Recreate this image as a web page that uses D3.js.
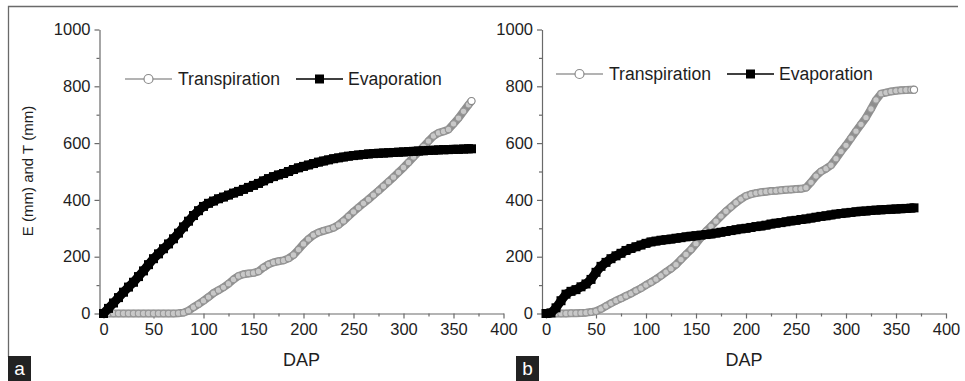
<!DOCTYPE html>
<html><head><meta charset="utf-8">
<script src="https://cdn.jsdelivr.net/npm/d3@7"></script>
<style>
body{margin:0;background:#fff;}
svg{display:block;font-family:"Liberation Sans",Arial,Helvetica,sans-serif;}
</style>
</head><body>
<svg id="c" width="965" height="381"></svg>
<script>
// ---------- data ----------
const days = [0,5,10,15,20,25,30,35,40,45,50,55,60,65,70,75,80,85,90,95,100,105,110,115,120,125,130,135,140,145,150,155,160,165,170,175,180,185,190,195,200,205,210,215,220,225,230,235,240,245,250,255,260,265,270,275,280,285,290,295,300,305,310,315,320,325,330,335,340,345,350,355,360,365,368];

// Panel a
const transA = [0,0,0,0,0,0,0,0,0,0,0,0,0,0,0,1,3,10,22,33,45,58,72,82,92,105,120,132,138,141,143,148,162,173,180,184,187,194,206,225,245,262,276,285,291,296,302,312,326,342,358,373,388,402,417,432,448,464,480,497,514,532,551,569,588,607,625,636,641,648,668,688,712,735,748];
const evapA  = [0,18,37,56,75,93,110,130,150,172,193,210,228,245,263,283,305,325,345,362,377,388,396,404,410,417,424,430,437,444,451,458,467,475,482,488,493,500,507,513,518,523,528,533,537,541,545,548,551,554,556,558,560,562,563,564,565,566,567,568,569,570,571,572,573,574,575,576,577,577,578,578,579,580,580];

// Panel b
const transB = [0,0,0,0,0,1,1,2,3,5,8,16,26,36,45,53,62,70,80,89,100,110,121,133,146,158,172,190,208,225,246,268,290,307,325,343,360,375,390,403,414,420,424,427,429,431,432,434,436,437,438,439,443,462,484,500,510,522,545,570,592,617,642,666,690,720,752,774,778,782,784,786,787,788,788];
const evapB  = [0,2,20,45,68,78,84,94,104,120,145,166,180,193,203,212,222,229,235,241,247,252,255,258,260,262,265,267,270,272,274,276,278,280,283,286,289,292,295,298,300,303,306,308,311,315,318,320,323,326,328,331,333,336,339,342,344,347,350,352,354,356,358,360,361,363,364,365,366,367,368,369,370,371,372];

const xMajor = [0,50,100,150,200,250,300,350,400];
const xMinor = [25,75,125,175,225,275,325,375];
const yMajor = [0,200,400,600,800,1000];
const yMinor = [100,300,500,700,900];
const seriesNames = ["Transpiration","Evaporation"];
const panelNames = ["a","b"];
const xTitle = "DAP";
const yTitle = "E (mm) and T (mm)";

// ---------- drawing ----------
const svg = d3.select("#c");
const axisCol = "#6a6a6a";
const textCol = "#1e1e1e";
const fmt = d3.format("d");

// outer frame (top + left)
svg.append("path").attr("d","M8.5,357 V6.5 H958")
  .attr("fill","none").attr("stroke",axisCol).attr("stroke-width",1.3);

const panels = [
  {trans:transA, evap:evapA, r0:99.5, r1:503.5, leg:{x:125,y:79}, lab:{x:8,w:23}, yTitle:true},
  {trans:transB, evap:evapB, r0:542, r1:946, leg:{x:556,y:74}, lab:{x:516,w:23}, yTitle:false}
];

panels.forEach((p,pi)=>{
  const g = svg.append("g");
  const x = d3.scaleLinear().domain([-4,400]).range([p.r0,p.r1]);
  const y = d3.scaleLinear().domain([0,1000]).range([313.5,29.5]);

  // x axis
  g.append("g").attr("transform","translate(0,313.5)")
    .call(d3.axisBottom(x).tickValues(xMajor).tickFormat(fmt).tickSize(5).tickSizeOuter(0).tickPadding(5));
  g.append("g").attr("transform","translate(0,313.5)")
    .call(d3.axisBottom(x).tickValues(xMinor).tickSize(3).tickFormat(""))
    .call(s=>s.select(".domain").remove());
  // y axis
  g.append("g").attr("transform",`translate(${x(-4)},0)`)
    .call(d3.axisLeft(y).tickValues(yMajor).tickFormat(fmt).tickSize(5).tickSizeOuter(0).tickPadding(4));
  g.append("g").attr("transform",`translate(${x(-4)},0)`)
    .call(d3.axisLeft(y).tickValues(yMinor).tickSize(3).tickFormat(""))
    .call(s=>s.select(".domain").remove());

  g.selectAll(".domain, .tick line").attr("stroke",axisCol).attr("stroke-width",1.2);
  g.selectAll(".tick text").attr("fill",textCol).style("font-size","16.5px")
    .style("font-family","'Liberation Sans',Arial,sans-serif");

  // axis titles
  g.append("text").attr("x",(x(-4)+x(400))/2).attr("y",366)
    .attr("text-anchor","middle").attr("fill",textCol).style("font-size","18px").text(xTitle);
  if (p.yTitle) {
    g.append("text").attr("transform","translate(33,171) rotate(-90)")
      .attr("text-anchor","middle").attr("fill",textCol).style("font-size","15px").text(yTitle);
  }

  const line = d3.line().x((d,i)=>x(days[i])).y(d=>y(d));

  // Transpiration (open circles, grey)
  g.append("path").datum(p.trans).attr("d",line).attr("fill","none")
    .attr("stroke","#8e8e8e").attr("stroke-width",8).attr("stroke-linejoin","round");
  g.selectAll(".tc").data(p.trans).enter().append("circle")
    .attr("cx",(d,i)=>x(days[i])).attr("cy",d=>y(d)).attr("r",3.2)
    .attr("fill","#c8c8c8").attr("stroke","#969696").attr("stroke-width",1.1);
  const lastI = p.trans.length-1;
  g.append("circle").attr("cx",x(days[lastI])).attr("cy",y(p.trans[lastI])).attr("r",3.6)
    .attr("fill","#fff").attr("stroke","#8a8a8a").attr("stroke-width",1.1);

  // Evaporation (filled squares, black)
  g.append("path").datum(p.evap).attr("d",line).attr("fill","none")
    .attr("stroke","#000").attr("stroke-width",9).attr("stroke-linejoin","round");
  g.selectAll(".es").data(p.evap).enter().append("rect")
    .attr("x",(d,i)=>x(days[i])-4.5).attr("y",d=>y(d)-4.5).attr("width",9).attr("height",9)
    .attr("fill","#000");

  // legend
  const L = g.append("g").attr("transform",`translate(${p.leg.x},${p.leg.y})`);
  L.append("line").attr("x1",0).attr("x2",47).attr("y1",0).attr("y2",0)
    .attr("stroke","#9a9a9a").attr("stroke-width",1.3);
  L.append("circle").attr("cx",23.5).attr("cy",0).attr("r",4.5)
    .attr("fill","#fff").attr("stroke","#8a8a8a").attr("stroke-width",1.2);
  L.append("text").attr("x",53).attr("y",6.3).attr("fill",textCol)
    .style("font-size","17.6px").text(seriesNames[0]);
  L.append("line").attr("x1",171).attr("x2",218).attr("y1",0).attr("y2",0)
    .attr("stroke","#000").attr("stroke-width",1.3);
  L.append("rect").attr("x",190).attr("y",-4.5).attr("width",9).attr("height",9).attr("fill","#000");
  L.append("text").attr("x",223).attr("y",6.3).attr("fill",textCol)
    .style("font-size","17.6px").text(seriesNames[1]);

  // panel label box
  svg.append("rect").attr("x",p.lab.x).attr("y",356).attr("width",p.lab.w).attr("height",25).attr("fill","#222");
  svg.append("text").attr("x",p.lab.x+p.lab.w/2).attr("y",375).attr("text-anchor","middle")
    .attr("fill","#fff").style("font-size","19px").text(panelNames[pi]);
});
</script>
</body></html>
